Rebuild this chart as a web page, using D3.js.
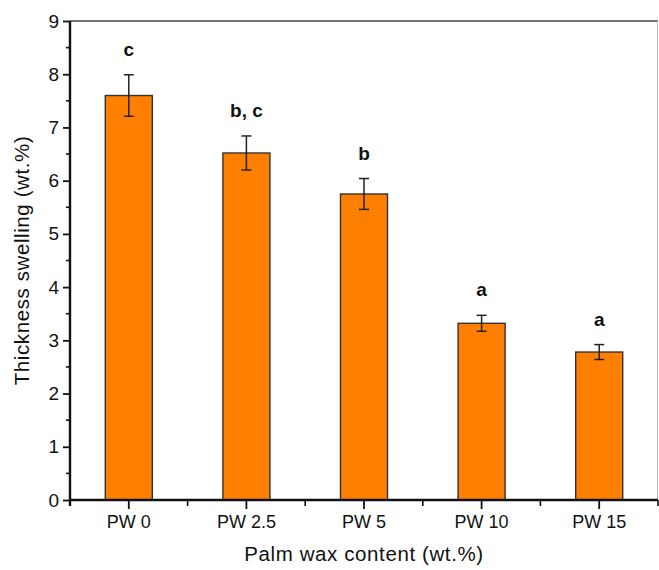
<!DOCTYPE html>
<html lang="en">
<head>
<meta charset="utf-8">
<script src="https://cdn.jsdelivr.net/npm/d3@7"></script>
<style>
  body { margin: 0; background: #fff; }
  svg text { font-family: "Liberation Sans", Arial, sans-serif; fill: #111; }
  .axis path, .axis line { stroke: #111; }
</style>
</head>
<body>
<svg id="chart" width="659" height="570"></svg>
<script>
  // data
  var categories = ["PW 0", "PW 2.5", "PW 5", "PW 10", "PW 15"];
  var swelling = [7.60, 6.52, 5.75, 3.32, 2.78];
  var errors = [0.39, 0.32, 0.29, 0.15, 0.14];
  var letters = ["c", "b, c", "b", "a", "a"];
  var yTicks = [0, 1, 2, 3, 4, 5, 6, 7, 8, 9];

  var plotLeft = 70, plotRight = 658, plotTop = 21, plotBottom = 500;

  var svg = d3.select("#chart");

  var x = d3.scaleBand().domain(categories).range([plotLeft, plotRight]).paddingInner(0.6).paddingOuter(0.3);
  var xs = d3.scaleBand().domain(categories).range([plotLeft, plotRight]);
  var y = d3.scaleLinear().domain([0, 9]).range([plotBottom, plotTop]);

  // frame (top and right)
  svg.append("line").attr("x1", plotLeft).attr("x2", plotRight).attr("y1", plotTop).attr("y2", plotTop)
    .attr("stroke", "#444").attr("stroke-width", 1.6);
  svg.append("line").attr("x1", plotRight - 0.5).attr("x2", plotRight - 0.5).attr("y1", plotTop).attr("y2", plotBottom)
    .attr("stroke", "#bbb").attr("stroke-width", 1);

  // bars
  var data = categories.map(function(c, i) {
    return { cat: c, v: swelling[i], e: errors[i], l: letters[i] };
  });

  var g = svg.append("g");
  g.selectAll("rect").data(data).enter().append("rect")
    .attr("x", function(d) { return x(d.cat); })
    .attr("width", x.bandwidth())
    .attr("y", function(d) { return y(d.v); })
    .attr("height", function(d) { return y(0) - y(d.v); })
    .attr("fill", "#ff8000")
    .attr("stroke", "#333")
    .attr("stroke-width", 1.4);

  // error bars
  var eb = g.selectAll("g.err").data(data).enter().append("g").attr("class", "err")
    .attr("stroke", "#222").attr("stroke-width", 1.5);
  eb.append("line")
    .attr("x1", function(d) { return x(d.cat) + x.bandwidth() / 2; })
    .attr("x2", function(d) { return x(d.cat) + x.bandwidth() / 2; })
    .attr("y1", function(d) { return y(d.v + d.e); })
    .attr("y2", function(d) { return y(d.v - d.e); });
  eb.append("line")
    .attr("x1", function(d) { return x(d.cat) + x.bandwidth() / 2 - 5; })
    .attr("x2", function(d) { return x(d.cat) + x.bandwidth() / 2 + 5; })
    .attr("y1", function(d) { return y(d.v + d.e); })
    .attr("y2", function(d) { return y(d.v + d.e); });
  eb.append("line")
    .attr("x1", function(d) { return x(d.cat) + x.bandwidth() / 2 - 5; })
    .attr("x2", function(d) { return x(d.cat) + x.bandwidth() / 2 + 5; })
    .attr("y1", function(d) { return y(d.v - d.e); })
    .attr("y2", function(d) { return y(d.v - d.e); });

  // significance letters
  g.selectAll("text.letter").data(data).enter().append("text")
    .attr("class", "letter")
    .attr("x", function(d) { return x(d.cat) + x.bandwidth() / 2; })
    .attr("y", function(d) { return y(d.v + d.e) - 19; })
    .attr("text-anchor", "middle")
    .style("font-size", "19px")
    .style("font-weight", "bold")
    .text(function(d) { return d.l; });

  // y axis
  var yAxis = svg.append("g").attr("class", "axis")
    .attr("transform", "translate(" + plotLeft + ",0)")
    .call(d3.axisLeft(y).tickValues(yTicks).tickSize(7).tickPadding(4).tickFormat(d3.format("d")));
  yAxis.select(".domain").attr("stroke-width", 2.4).attr("d", "M0," + (plotBottom + 1) + "V" + plotTop);
  yAxis.selectAll(".tick line").attr("stroke-width", 1.8);
  yAxis.selectAll(".tick text").style("font-size", "19px");
  yAxis.selectAll(".minor").data(yTicks.slice(0, -1)).enter().append("line")
    .attr("class", "minor")
    .attr("x1", -4).attr("x2", 0)
    .attr("y1", function(d) { return y(d + 0.5); })
    .attr("y2", function(d) { return y(d + 0.5); })
    .attr("stroke", "#111").attr("stroke-width", 1.6);

  // x axis
  var xAxis = svg.append("g").attr("class", "axis")
    .attr("transform", "translate(0," + plotBottom + ")")
    .call(d3.axisBottom(xs).tickSize(9).tickPadding(6));
  xAxis.select(".domain").attr("stroke-width", 2.4).attr("d", "M" + (plotLeft - 1) + ",0H" + plotRight);
  xAxis.selectAll(".tick line").attr("stroke-width", 1.8);
  xAxis.selectAll(".tick text").style("font-size", "18px");
  xAxis.selectAll(".minor").data(categories).enter().append("line")
    .attr("class", "minor")
    .attr("x1", function(d) { return xs(d) + xs.bandwidth(); })
    .attr("x2", function(d) { return xs(d) + xs.bandwidth(); })
    .attr("y1", 0).attr("y2", 6)
    .attr("stroke", "#111").attr("stroke-width", 1.6);
  xAxis.append("line")
    .attr("x1", plotLeft).attr("x2", plotLeft)
    .attr("y1", 0).attr("y2", 6)
    .attr("stroke", "#111").attr("stroke-width", 2.4);

  // axis titles
  svg.append("text")
    .attr("x", (plotLeft + plotRight) / 2).attr("y", 561)
    .attr("text-anchor", "middle")
    .style("font-size", "20.5px")
    .style("letter-spacing", "0.6px")
    .text("Palm wax content (wt.%)");
  svg.append("text")
    .attr("transform", "translate(29," + (plotTop + plotBottom) / 2 + ") rotate(-90)")
    .attr("text-anchor", "middle")
    .style("font-size", "20.5px")
    .style("letter-spacing", "0.6px")
    .text("Thickness swelling (wt.%)");
</script>
</body>
</html>
